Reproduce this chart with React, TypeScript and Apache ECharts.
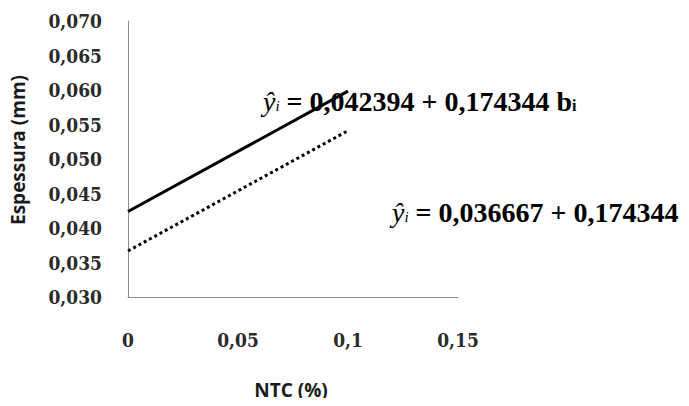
import React, { useEffect, useRef } from "react";
import * as echarts from "echarts";

const xTicks = [0, 0.05, 0.1, 0.15];
const xTickLabels = ["0", "0,05", "0,1", "0,15"];
const yTicks = [0.03, 0.035, 0.04, 0.045, 0.05, 0.055, 0.06, 0.065, 0.07];
const yTickLabels = ["0,030", "0,035", "0,040", "0,045", "0,050", "0,055", "0,060", "0,065", "0,070"];

const xValues = [0, 0.1];
const fitA = [0.042394, 0.059828];
const fitB = [0.036667, 0.054101];

const eq1Const = "0,042394";
const eq2Const = "0,036667";
const eqSlope = "0,174344";

export default function App() {
  const ref = useRef<HTMLDivElement>(null);
  useEffect(() => {
    if (!ref.current) return;
    const chart = echarts.init(ref.current, undefined, { renderer: "svg" });
    const fmt = (ticks: number[], labels: string[]) => (v: number) => {
      const i = ticks.findIndex((t) => Math.abs(t - v) < 1e-9);
      return i >= 0 ? labels[i] : "";
    };
    const rich = {
      y: { fontFamily: "Liberation Serif", fontStyle: "italic", fontSize: 28, color: "#000" },
      s: { fontFamily: "Liberation Serif", fontStyle: "italic", fontSize: 15, color: "#000", verticalAlign: "bottom", padding: [0, 0, 2, 0] },
      b: { fontFamily: "Liberation Serif", fontWeight: "bold", fontSize: 28, color: "#000" },
      bs: { fontFamily: "Liberation Serif", fontWeight: "bold", fontSize: 16, color: "#000", verticalAlign: "bottom", padding: [0, 0, 2, 0] },
    };
    const tickFont = {
      fontFamily: "'DejaVu Serif Condensed', 'DejaVu Serif'",
      fontWeight: "bold",
      fontSize: 19,
      color: "#2a2a2a",
    };
    chart.setOption({
      animation: false,
      backgroundColor: "#fff",
      grid: { left: 128, right: 231, top: 21, bottom: 109 },
      xAxis: {
        type: "value",
        min: 0,
        max: 0.15,
        interval: 0.05,
        axisLine: { show: true, lineStyle: { color: "#8c8c8c", width: 1 } },
        axisTick: { show: false },
        splitLine: { show: false },
        axisLabel: { margin: 33, ...tickFont, formatter: fmt(xTicks, xTickLabels) },
      },
      yAxis: {
        type: "value",
        min: 0.03,
        max: 0.07,
        interval: 0.005,
        axisLine: { show: true, lineStyle: { color: "#8c8c8c", width: 1 } },
        axisTick: { show: false },
        splitLine: { show: false },
        axisLabel: { margin: 26, ...tickFont, formatter: fmt(yTicks, yTickLabels) },
      },
      series: [
        {
          type: "line",
          data: xValues.map((x, i) => [x, fitA[i]]),
          showSymbol: false,
          lineStyle: { color: "#000", width: 3, type: "solid" },
        },
        {
          type: "line",
          data: xValues.map((x, i) => [x, fitB[i]]),
          showSymbol: false,
          lineStyle: { color: "#000", width: 3, type: [3, 3] },
        },
      ],
      graphic: [
        {
          type: "text",
          rotation: Math.PI / 2,
          x: 18,
          y: 150,
          style: {
            text: "Espessura (mm)",
            fontFamily: "Open Sans",
            fontWeight: "bold",
            fontSize: 19,
            fill: "#1a1a1a",
            align: "center",
            verticalAlign: "middle",
          },
        },
        {
          type: "text",
          x: 291,
          y: 390,
          style: {
            text: "NTC (%)",
            fontFamily: "Open Sans",
            fontWeight: "bold",
            fontSize: 19,
            fill: "#1a1a1a",
            align: "center",
            verticalAlign: "middle",
          },
        },
        {
          type: "text",
          x: 263,
          y: 101,
          z: 10,
          style: {
            text: `{y|ŷ}{s|i}{b| = ${eq1Const} + ${eqSlope} b}{bs|i}`,
            rich,
            align: "left",
            verticalAlign: "middle",
          },
        },
        {
          type: "text",
          x: 392,
          y: 212,
          z: 10,
          style: {
            text: `{y|ŷ}{s|i}{b| = ${eq2Const} + ${eqSlope}}`,
            rich,
            align: "left",
            verticalAlign: "middle",
          },
        },
      ],
    });
    return () => chart.dispose();
  }, []);
  return <div ref={ref} style={{ width: 689, height: 406, margin: -8 }} />;
}
